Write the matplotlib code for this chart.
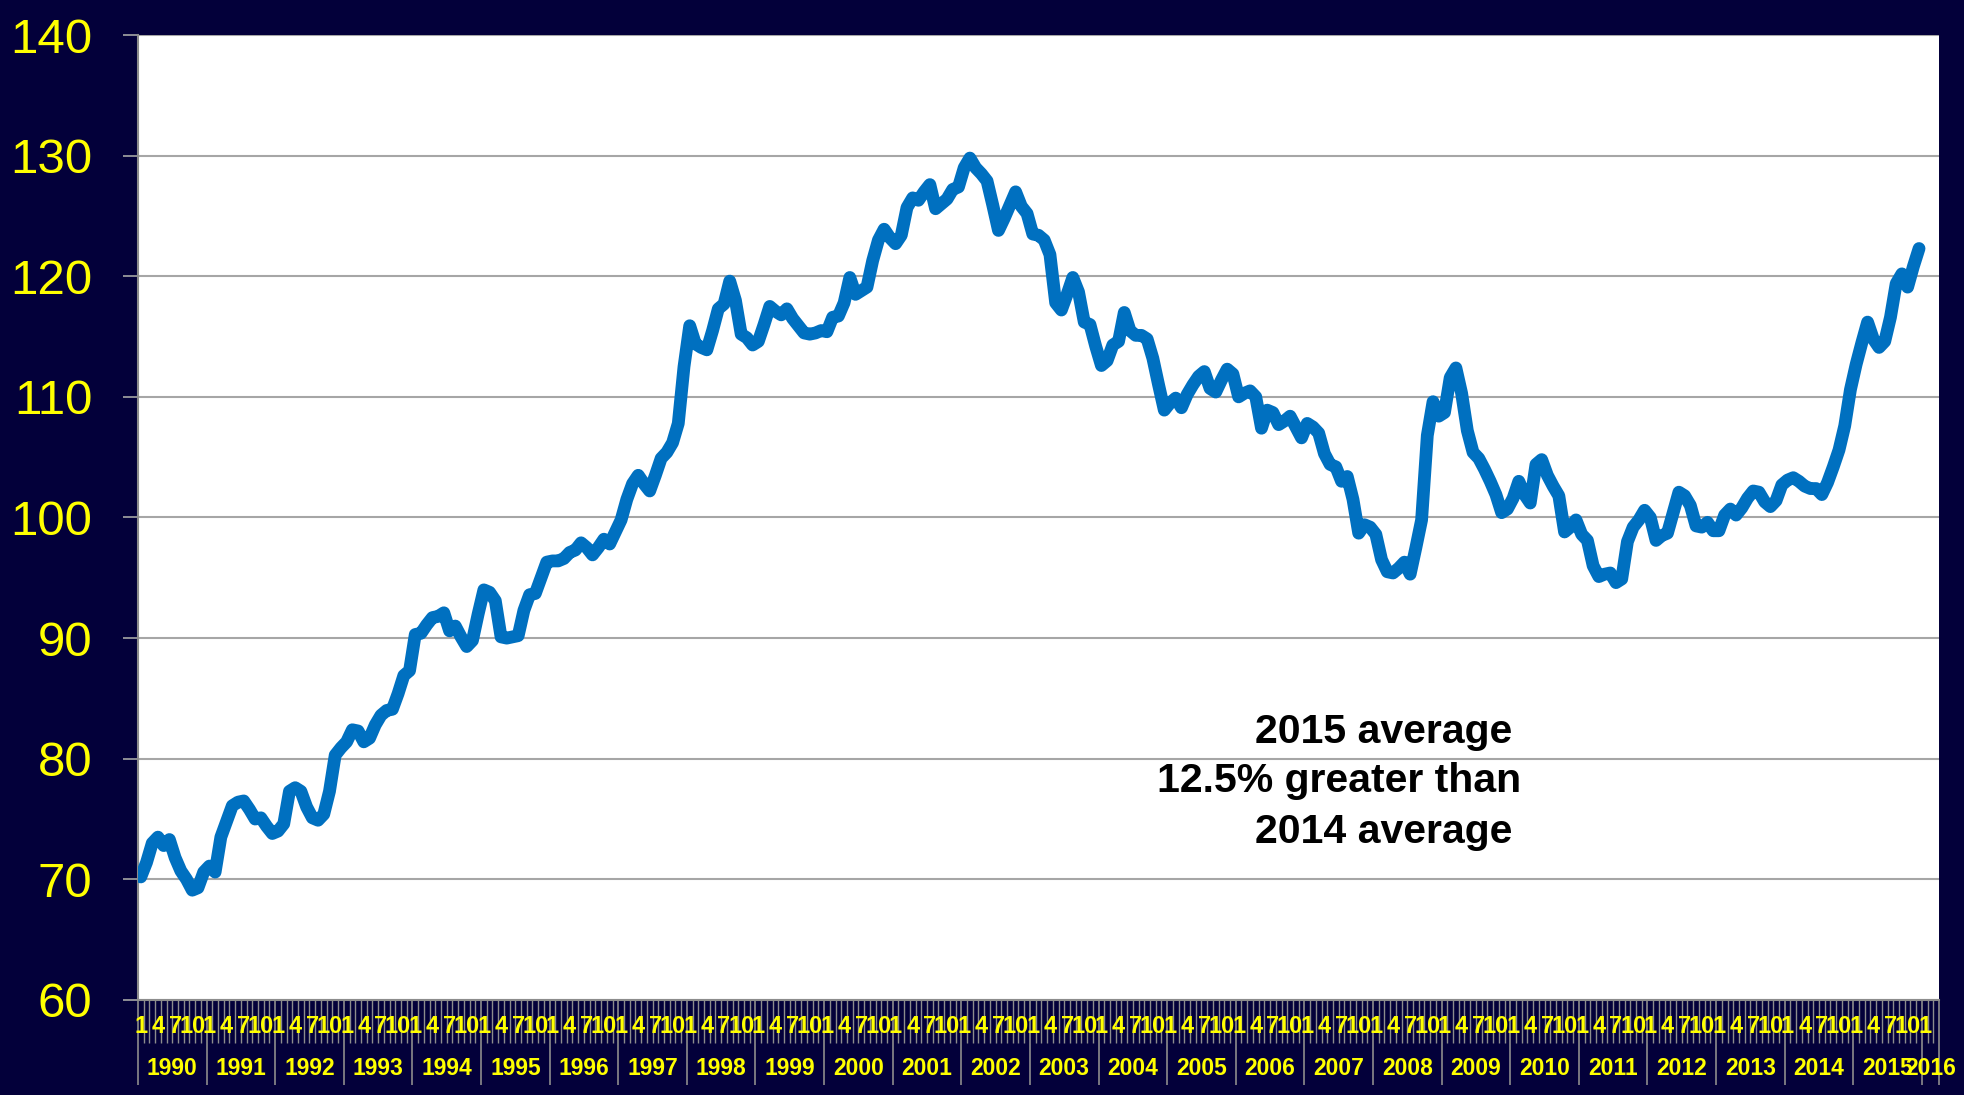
import numpy as np
import matplotlib.pyplot as plt
from matplotlib.transforms import blended_transform_factory

# monthly index, Jan 1990 .. Dec 2015
index_values = [
    70.2, 71.4, 73.0, 73.5, 72.8, 73.3, 71.8, 70.7, 70.0, 69.1, 69.3, 70.6,   # 1990
    71.1, 70.6, 73.5, 74.8, 76.1, 76.4, 76.5, 75.8, 75.0, 75.1, 74.4, 73.8,   # 1991
    74.0, 74.6, 77.3, 77.6, 77.3, 76.0, 75.1, 74.9, 75.4, 77.3, 80.3, 80.9,   # 1992
    81.4, 82.4, 82.3, 81.4, 81.7, 82.8, 83.6, 84.0, 84.1, 85.4, 86.9, 87.3,   # 1993
    90.3, 90.4, 91.1, 91.7, 91.8, 92.1, 90.6, 91.0, 90.1, 89.3, 89.8, 92.0,   # 1994
    94.0, 93.8, 93.1, 90.1, 90.0, 90.1, 90.2, 92.3, 93.6, 93.7, 95.0, 96.3,   # 1995
    96.4, 96.4, 96.6, 97.1, 97.3, 97.9, 97.5, 96.9, 97.5, 98.2, 97.8, 98.8,   # 1996
    99.8, 101.5, 102.8, 103.5, 102.8, 102.2, 103.5, 104.9, 105.4, 106.2, 107.8, 112.5,  # 1997
    115.9, 114.4, 114.1, 113.9, 115.5, 117.3, 117.7, 119.6, 118.0, 115.2, 114.9, 114.3,  # 1998
    114.6, 116.0, 117.5, 117.1, 116.8, 117.3, 116.5, 115.9, 115.3, 115.2, 115.3, 115.5,  # 1999
    115.4, 116.6, 116.7, 117.8, 119.9, 118.5, 118.8, 119.1, 121.3, 123.0, 123.9, 123.2,  # 2000
    122.7, 123.4, 125.7, 126.5, 126.3, 127.0, 127.6, 125.6, 126.0, 126.4, 127.2, 127.4,  # 2001
    129.0, 129.8, 129.0, 128.5, 127.9, 125.9, 123.8, 124.8, 125.9, 127.0, 125.8, 125.2,  # 2002
    123.5, 123.4, 123.0, 121.8, 117.8, 117.2, 118.5, 119.9, 118.7, 116.2, 116.0, 114.2,  # 2003
    112.6, 113.0, 114.3, 114.6, 117.0, 115.5, 115.1, 115.1, 114.8, 113.2, 111.0, 108.9,  # 2004
    109.5, 109.9, 109.1, 110.2, 111.0, 111.7, 112.1, 110.7, 110.4, 111.4, 112.3, 111.9,  # 2005
    110.0, 110.3, 110.5, 110.0, 107.4, 108.9, 108.7, 107.7, 108.0, 108.4, 107.5, 106.6,  # 2006
    107.8, 107.5, 107.0, 105.3, 104.4, 104.2, 103.0, 103.4, 101.5, 98.7, 99.4, 99.2,     # 2007
    98.6, 96.5, 95.5, 95.4, 95.8, 96.3, 95.3, 97.5, 99.8, 106.8, 109.6, 108.4,           # 2008
    108.7, 111.6, 112.4, 110.3, 107.2, 105.4, 104.9, 104.0, 103.0, 101.9, 100.4, 100.7,  # 2009
    101.6, 103.0, 101.9, 101.2, 104.4, 104.8, 103.5, 102.6, 101.8, 98.8, 99.2, 99.8,     # 2010
    98.6, 98.1, 96.0, 95.1, 95.3, 95.4, 94.6, 94.9, 98.0, 99.2, 99.8, 100.6,             # 2011
    100.0, 98.1, 98.5, 98.7, 100.4, 102.1, 101.8, 101.0, 99.3, 99.2, 99.6, 98.9,         # 2012
    98.9, 100.2, 100.7, 100.2, 100.8, 101.6, 102.2, 102.1, 101.3, 100.9, 101.4, 102.7,   # 2013
    103.1, 103.3, 103.0, 102.6, 102.4, 102.4, 101.9, 102.9, 104.2, 105.6, 107.6, 110.6,  # 2014
    112.7, 114.5, 116.2, 114.8, 114.1, 114.6, 116.6, 119.4, 120.2, 119.1, 120.8, 122.3,  # 2015
]

years = list(range(1990, 2017))
months_in_last_year = 3          # axis runs to Mar 2016
month_labels = {1: "1", 4: "4", 7: "7", 10: "10"}
y_ticks = [60, 70, 80, 90, 100, 110, 120, 130, 140]
note_lines = ["2015 average", "12.5% greater than", "2014 average"]

NAVY = "#03003A"
YELLOW = "#FFFF00"
GREY = "#A6A6A6"
BLUE = "#0070C0"

n_cats = 12 * (len(years) - 1) + months_in_last_year

plt.rcParams["font.family"] = ["Liberation Sans", "DejaVu Sans"]

fig = plt.figure(figsize=(19.65, 10.95), dpi=100, facecolor=NAVY)
ax = fig.add_axes([0.0702, 0.0868, 0.9166, 0.8812])
ax.set_facecolor("white")

ax.plot(np.arange(len(index_values)), index_values, color=BLUE, lw=9.2,
        solid_joinstyle="round", solid_capstyle="round", zorder=3)

ax.set_xlim(-0.5, n_cats - 0.5)
ax.set_ylim(60, 140)

# y axis
ax.set_yticks(y_ticks)
ax.set_yticklabels([str(t) for t in y_ticks])
ax.tick_params(axis="y", colors=GREY, length=10.8, width=1.2, pad=22,
               labelsize=35.5, labelcolor=YELLOW)
ax.yaxis.grid(True, color=GREY, lw=1.5)
ax.set_axisbelow(True)

# x axis: month boundaries (short) and year boundaries (long)
year_edges = [12 * j - 0.5 for j in range(len(years))] + [n_cats - 0.5]
ax.set_xticks(year_edges)
ax.set_xticks(np.arange(-0.5, n_cats, 1.0), minor=True)
ax.set_xticklabels([])
ax.tick_params(axis="x", which="major", length=61, width=1.2, colors="#8C8C8C")
ax.tick_params(axis="x", which="minor", length=31, width=1.0, colors="#8C8C8C")

for side in ["top", "right"]:
    ax.spines[side].set_visible(False)
ax.spines["left"].set_color("#8C8C8C")
ax.spines["bottom"].set_color("#8C8C8C")
ax.spines["left"].set_linewidth(1.5)
ax.spines["bottom"].set_linewidth(1.5)

trans = blended_transform_factory(ax.transData, ax.transAxes)
for i in range(n_cats):
    m = i % 12 + 1
    if m in month_labels:
        ax.text(i, -0.028, month_labels[m], transform=trans, ha="center",
                va="center", color=YELLOW, fontsize=17, fontweight="bold")

for j, yr in enumerate(years):
    start = 12 * j
    end = min(start + 12, n_cats)
    ax.text((start + end - 1) / 2, -0.0715, str(yr), transform=trans,
            ha="center", va="center", color=YELLOW, fontsize=16.5,
            fontweight="bold")

# annotation
ax.text(0.763, 0.2777, note_lines[0], transform=ax.transAxes, ha="right",
        va="center", fontsize=29.5, fontweight="bold", color="black")
ax.text(0.768, 0.2272, note_lines[1], transform=ax.transAxes, ha="right",
        va="center", fontsize=29.5, fontweight="bold", color="black")
ax.text(0.763, 0.174, note_lines[2], transform=ax.transAxes, ha="right",
        va="center", fontsize=29.5, fontweight="bold", color="black")

fig.savefig("out.png", dpi=100, facecolor=NAVY)
